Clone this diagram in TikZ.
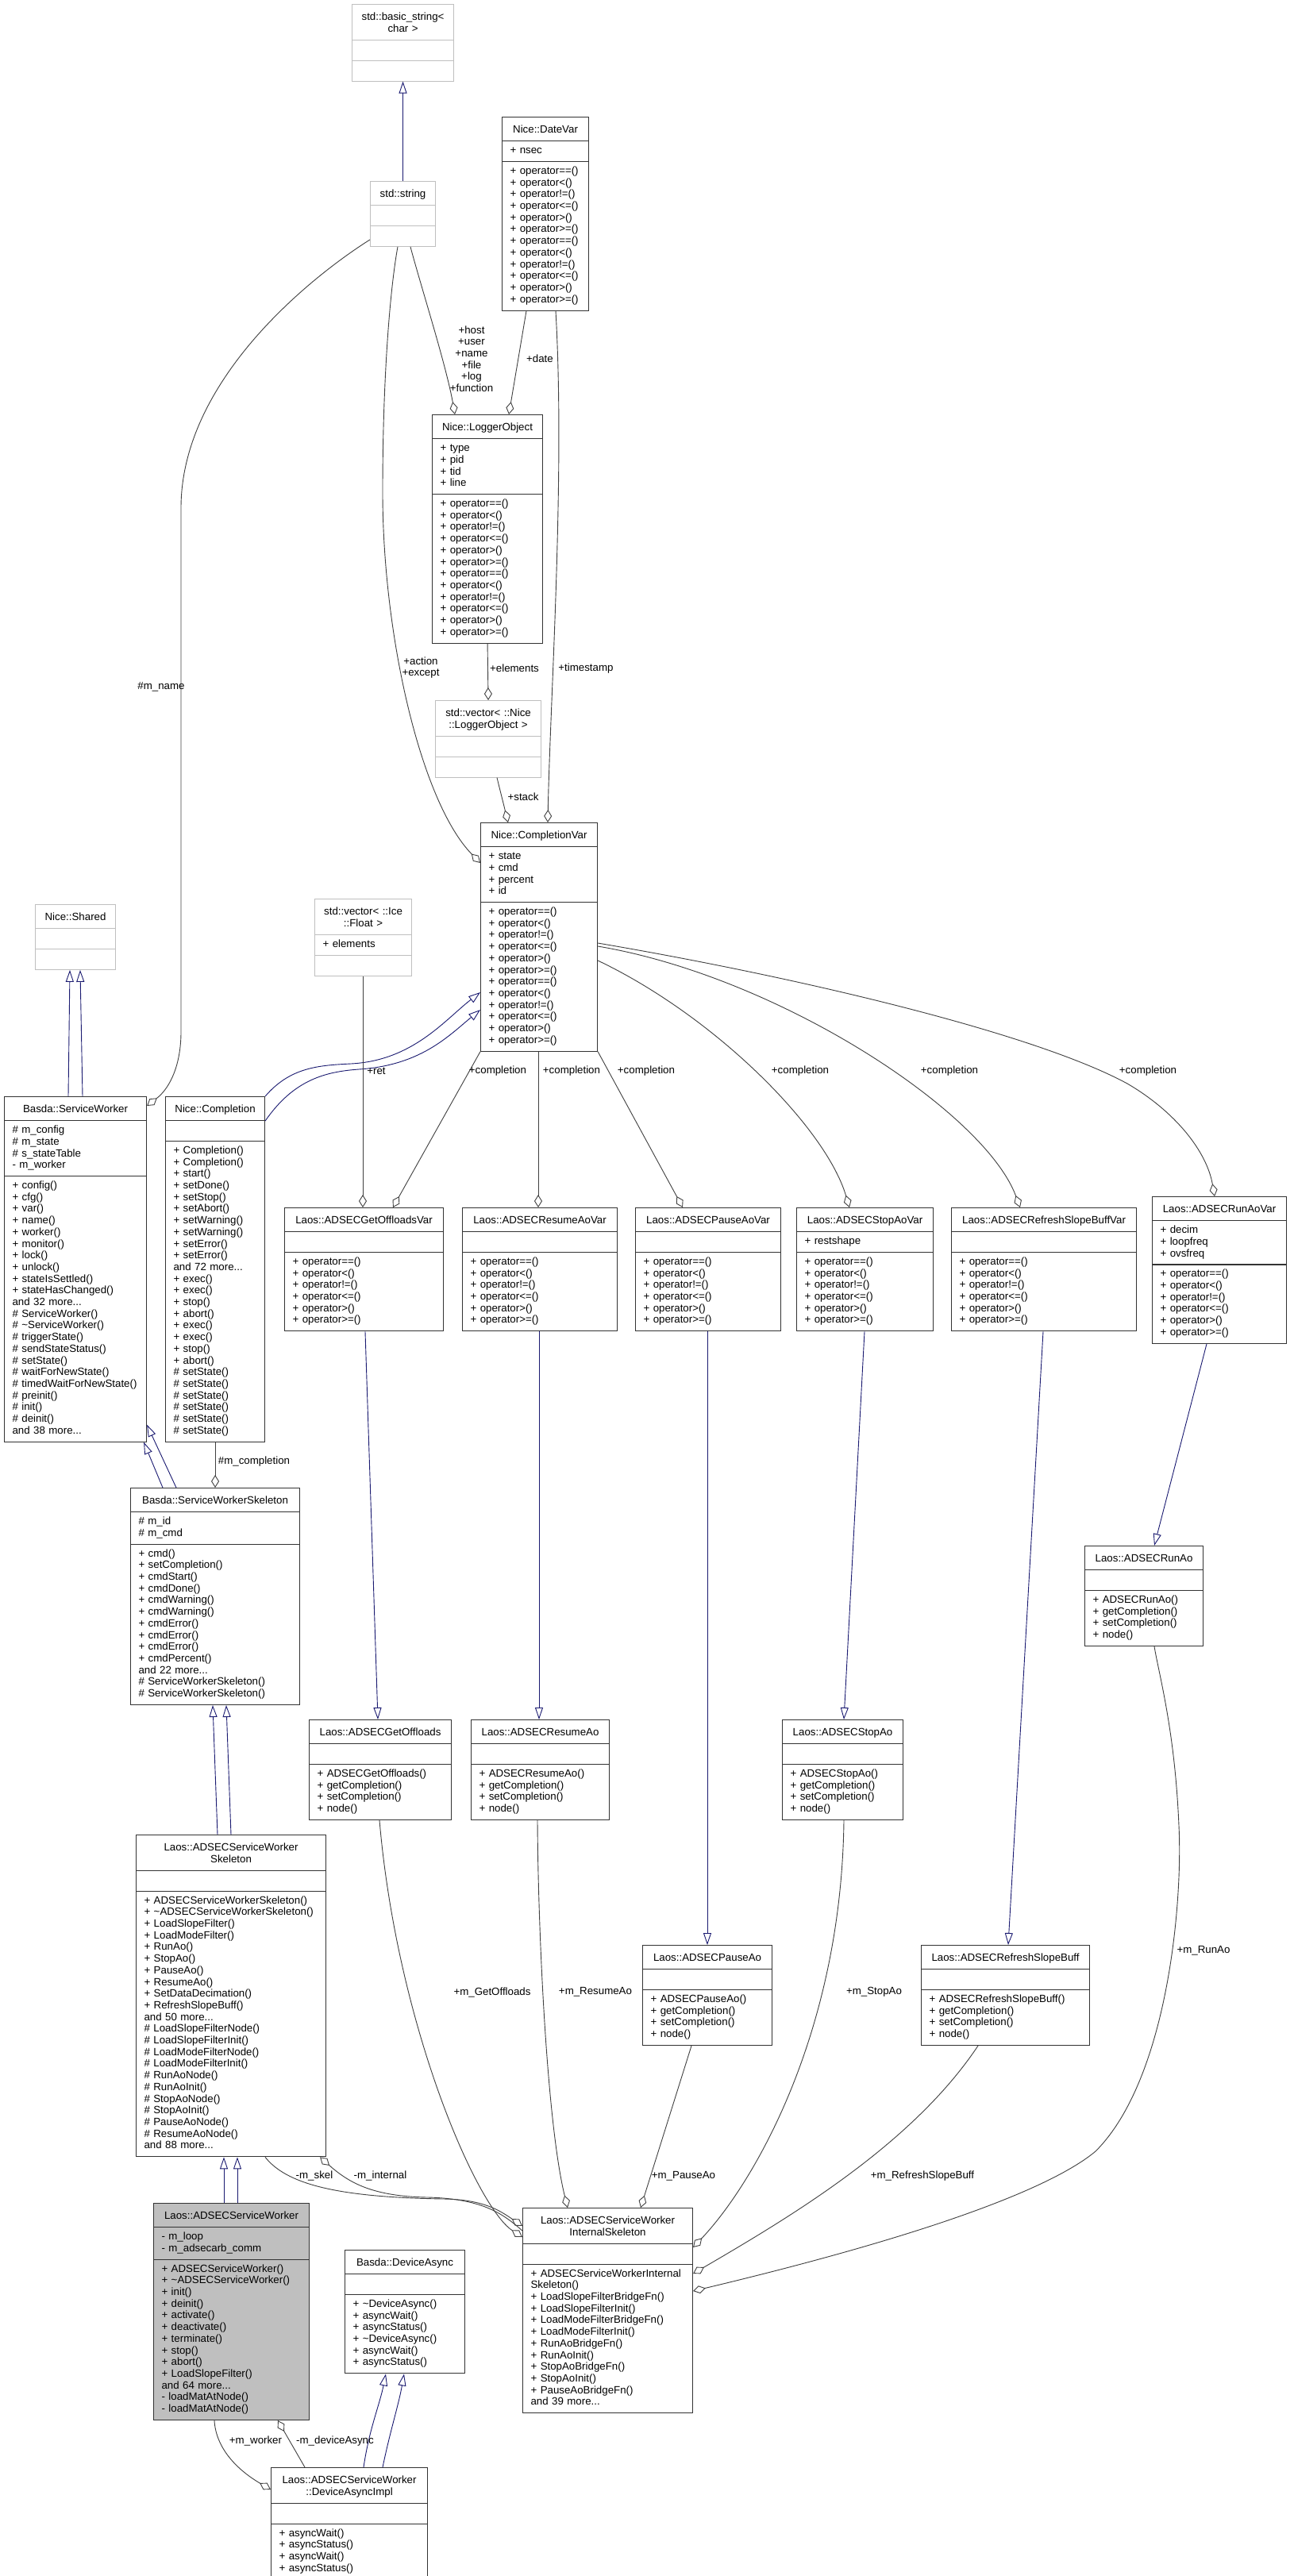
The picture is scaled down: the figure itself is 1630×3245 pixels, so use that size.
\documentclass[tikz,border=0pt]{standalone}
\usepackage{fontspec}
\setmainfont{Liberation Sans}
\usetikzlibrary{arrows.meta,calc,shapes.multipart}
\definecolor{inhblue}{HTML}{191970}
\definecolor{aggray}{HTML}{404040}
\definecolor{extgray}{HTML}{BFBFBF}
\hyphenpenalty=10000
\exhyphenpenalty=10000
\newcommand{\ttl}[1]{\par\hbox to\hsize{\hss\strut#1\strut\hss}}
\newcommand{\opsix}{+ operator==()\\+ operator<()\\+ operator!=()\\+ operator<=()\\+ operator>()\\+ operator>=()}
\newcommand{\leafops}[1]{\strut+ #1()\\+ getCompletion()\\+ setCompletion()\\+ node()\strut}

\begin{document}
\begin{tikzpicture}[x=1pt,y=-1pt,font=\fontsize{13.3}{14.7}\selectfont,
  cls/.style={rectangle split,rectangle split parts=3,draw=black!80,line width=1.1pt,fill=white,
    anchor=north west,inner xsep=10pt,inner ysep=5pt,align=left},
  ext/.style={cls,draw=extgray},
  inh/.style={draw=inhblue,line width=0.9pt,-{Triangle[open,length=15pt,width=10pt]}},
  agg/.style={draw=aggray,line width=0.9pt,{Diamond[open,length=16pt,width=10pt]}-},
  lbl/.style={align=center,inner sep=0pt}]
\path[use as bounding box,fill=white] (0,0) rectangle (1630,3245);

% external classes
\node[ext,text width=108pt] (bstr) at (443,5) {\ttl{std::basic\_string<}\ttl{char >}\nodepart{second}\strut\nodepart{third}\strut};
\node[ext,text width=62pt] (str) at (466,228) {\ttl{std::string}\nodepart{second}\strut\nodepart{third}\strut};
\node[ext,text width=113pt] (vlog) at (548,882) {\ttl{std::vector< ::Nice}\ttl{::LoggerObject >}\nodepart{second}\strut\nodepart{third}\strut};
\node[ext,text width=81pt] (shared) at (44,1139) {\ttl{Nice::Shared}\nodepart{second}\strut\nodepart{third}\strut};
\node[ext,text width=102pt] (vflt) at (396,1132) {\ttl{std::vector< ::Ice}\ttl{::Float >}\nodepart{second}\strut+ elements\strut\nodepart{third}\strut};

% Nice classes
\node[cls,text width=89pt] (datev) at (632,147) {\ttl{Nice::DateVar}\nodepart{second}\strut+ nsec\strut\nodepart{third}\strut\opsix\\\opsix\strut};
\node[cls,text width=119pt] (logobj) at (544,522) {\ttl{Nice::LoggerObject}\nodepart{second}\strut+ type\\+ pid\\+ tid\\+ line\strut\nodepart{third}\strut\opsix\\\opsix\strut};
\node[cls,text width=127pt] (cvar) at (605,1036) {\ttl{Nice::CompletionVar}\nodepart{second}\strut+ state\\+ cmd\\+ percent\\+ id\strut\nodepart{third}\strut\opsix\\\opsix\strut};
\node[cls,text width=159pt] (swork) at (5,1381) {\ttl{Basda::ServiceWorker}\nodepart{second}\strut\# m\_config\\\# m\_state\\\# s\_stateTable\\- m\_worker\strut\nodepart{third}\strut+ config()\\+ cfg()\\+ var()\\+ name()\\+ worker()\\+ monitor()\\+ lock()\\+ unlock()\\+ stateIsSettled()\\+ stateHasChanged()\\and 32 more...\\\# ServiceWorker()\\\# \textasciitilde ServiceWorker()\\\# triggerState()\\\# sendStateStatus()\\\# setState()\\\# waitForNewState()\\\# timedWaitForNewState()\\\# preinit()\\\# init()\\\# deinit()\\and 38 more...\strut};
\node[cls,text width=105pt] (compl) at (208,1381) {\ttl{Nice::Completion}\nodepart{second}\strut\nodepart{third}\strut+ Completion()\\+ Completion()\\+ start()\\+ setDone()\\+ setStop()\\+ setAbort()\\+ setWarning()\\+ setWarning()\\+ setError()\\+ setError()\\and 72 more...\\+ exec()\\+ exec()\\+ stop()\\+ abort()\\+ exec()\\+ exec()\\+ stop()\\+ abort()\\\# setState()\\\# setState()\\\# setState()\\\# setState()\\\# setState()\\\# setState()\strut};

% Var row
\node[cls,text width=180pt] (gofv) at (358,1521) {\ttl{Laos::ADSECGetOffloadsVar}\nodepart{second}\strut\nodepart{third}\strut\opsix\strut};
\node[cls,text width=175pt] (resv) at (582,1521) {\ttl{Laos::ADSECResumeAoVar}\nodepart{second}\strut\nodepart{third}\strut\opsix\strut};
\node[cls,text width=163pt] (pausev) at (800,1521) {\ttl{Laos::ADSECPauseAoVar}\nodepart{second}\strut\nodepart{third}\strut\opsix\strut};
\node[cls,text width=152pt] (stopv) at (1003,1521) {\ttl{Laos::ADSECStopAoVar}\nodepart{second}\strut+ restshape\strut\nodepart{third}\strut\opsix\strut};
\node[cls,text width=213pt] (rsbv) at (1198,1521) {\ttl{Laos::ADSECRefreshSlopeBuffVar}\nodepart{second}\strut\nodepart{third}\strut\opsix\strut};
\node[cls,text width=149pt] (runv) at (1451,1507) {\ttl{Laos::ADSECRunAoVar}\nodepart{second}\strut+ decim\\+ loopfreq\\+ ovsfreq\strut\nodepart{third}\strut\opsix\strut};

% commands
\node[cls,text width=159pt] (gof) at (389,2166) {\ttl{Laos::ADSECGetOffloads}\nodepart{second}\strut\nodepart{third}\leafops{ADSECGetOffloads}};
\node[cls,text width=154pt] (resao) at (593,2166) {\ttl{Laos::ADSECResumeAo}\nodepart{second}\strut\nodepart{third}\leafops{ADSECResumeAo}};
\node[cls,text width=132pt] (stopao) at (985,2166) {\ttl{Laos::ADSECStopAo}\nodepart{second}\strut\nodepart{third}\leafops{ADSECStopAo}};
\node[cls,text width=129pt] (runao) at (1366,1947) {\ttl{Laos::ADSECRunAo}\nodepart{second}\strut\nodepart{third}\leafops{ADSECRunAo}};
\node[cls,text width=143pt] (pauseao) at (809,2450) {\ttl{Laos::ADSECPauseAo}\nodepart{second}\strut\nodepart{third}\leafops{ADSECPauseAo}};
\node[cls,text width=192pt] (rsb) at (1160,2450) {\ttl{Laos::ADSECRefreshSlopeBuff}\nodepart{second}\strut\nodepart{third}\leafops{ADSECRefreshSlopeBuff}};

% skeletons and worker
\node[cls,text width=193pt] (sws) at (164,1874) {\ttl{Basda::ServiceWorkerSkeleton}\nodepart{second}\strut\# m\_id\\\# m\_cmd\strut\nodepart{third}\strut+ cmd()\\+ setCompletion()\\+ cmdStart()\\+ cmdDone()\\+ cmdWarning()\\+ cmdWarning()\\+ cmdError()\\+ cmdError()\\+ cmdError()\\+ cmdPercent()\\and 22 more...\\\# ServiceWorkerSkeleton()\\\# ServiceWorkerSkeleton()\strut};
\node[cls,text width=219pt] (asws) at (171,2311) {\ttl{Laos::ADSECServiceWorker}\ttl{Skeleton}\nodepart{second}\strut\nodepart{third}\strut+ ADSECServiceWorkerSkeleton()\\+ \textasciitilde ADSECServiceWorkerSkeleton()\\+ LoadSlopeFilter()\\+ LoadModeFilter()\\+ RunAo()\\+ StopAo()\\+ PauseAo()\\+ ResumeAo()\\+ SetDataDecimation()\\+ RefreshSlopeBuff()\\and 50 more...\\\# LoadSlopeFilterNode()\\\# LoadSlopeFilterInit()\\\# LoadModeFilterNode()\\\# LoadModeFilterInit()\\\# RunAoNode()\\\# RunAoInit()\\\# StopAoNode()\\\# StopAoInit()\\\# PauseAoNode()\\\# ResumeAoNode()\\and 88 more...\strut};
\node[cls,fill=extgray,text width=176pt] (asw) at (193,2775) {\ttl{Laos::ADSECServiceWorker}\nodepart{second}\strut- m\_loop\\- m\_adsecarb\_comm\strut\nodepart{third}\strut+ ADSECServiceWorker()\\+ \textasciitilde ADSECServiceWorker()\\+ init()\\+ deinit()\\+ activate()\\+ deactivate()\\+ terminate()\\+ stop()\\+ abort()\\+ LoadSlopeFilter()\\and 64 more...\\- loadMatAtNode()\\- loadMatAtNode()\strut};
\node[cls,text width=131pt] (dasync) at (434,2834) {\ttl{Basda::DeviceAsync}\nodepart{second}\strut\nodepart{third}\strut+ \textasciitilde DeviceAsync()\\+ asyncWait()\\+ asyncStatus()\\+ \textasciitilde DeviceAsync()\\+ asyncWait()\\+ asyncStatus()\strut};
\node[cls,text width=177pt] (dimpl) at (341,3108) {\ttl{Laos::ADSECServiceWorker}\ttl{::DeviceAsyncImpl}\nodepart{second}\strut\nodepart{third}\strut+ asyncWait()\\+ asyncStatus()\\+ asyncWait()\\+ asyncStatus()\strut};
\node[cls,text width=194pt] (iskel) at (658,2781) {\ttl{Laos::ADSECServiceWorker}\ttl{InternalSkeleton}\nodepart{second}\strut\nodepart{third}\strut+ ADSECServiceWorkerInternal\\Skeleton()\\+ LoadSlopeFilterBridgeFn()\\+ LoadSlopeFilterInit()\\+ LoadModeFilterBridgeFn()\\+ LoadModeFilterInit()\\+ RunAoBridgeFn()\\+ RunAoInit()\\+ StopAoBridgeFn()\\+ StopAoInit()\\+ PauseAoBridgeFn()\\and 39 more...\strut};

% inheritance
\draw[inh] (str.north) -- (bstr.south);
\draw[inh] ($(swork.north west)+(81,0)$) -- ($(shared.south west)+(44,0)$);
\draw[inh] ($(swork.north west)+(99,0)$) -- ($(shared.south west)+(57,0)$);
\draw[inh] (compl.north east) .. controls (365,1345) and (400,1342) .. (442,1340) .. controls (520,1336) and (560,1285) .. ($(cvar.north west)+(0,214)$);
\draw[inh] ($(compl.north east)+(0,31)$) .. controls (370,1360) and (410,1350) .. (452,1347) .. controls (530,1342) and (565,1305) .. ($(cvar.north west)+(0,236)$);
\draw[inh] ($(sws.north west)+(41,0)$) -- ($(swork.south east)+(-4,0)$);
\draw[inh] ($(sws.north west)+(58,0)$) -- ($(swork.south east)+(0,-22)$);
\draw[inh] ($(asws.north west)+(103,0)$) -- ($(sws.south west)+(104,0)$);
\draw[inh] ($(asws.north west)+(120,0)$) -- ($(sws.south west)+(121,0)$);
\draw[inh] ($(asw.north west)+(89,0)$) -- ($(asws.south west)+(111,0)$);
\draw[inh] ($(asw.north west)+(106,0)$) -- ($(asws.south west)+(128,0)$);
\draw[inh] ($(dimpl.north west)+(117,0)$) .. controls (465,3060) and (478,3030) .. ($(dasync.south west)+(52,0)$);
\draw[inh] ($(dimpl.north west)+(141,0)$) .. controls (492,3060) and (502,3030) .. ($(dasync.south west)+(75,0)$);
\draw[inh] ($(gofv.south west)+(102,0)$) -- ($(gof.north west)+(87,0)$);
\draw[inh] ($(resv.south west)+(97,0)$) -- ($(resao.north west)+(86,0)$);
\draw[inh] ($(pausev.south west)+(91,0)$) -- ($(pauseao.north west)+(82,0)$);
\draw[inh] ($(stopv.south west)+(86,0)$) -- ($(stopao.north west)+(78,0)$);
\draw[inh] ($(rsbv.south west)+(116,0)$) -- ($(rsb.north west)+(110,0)$);
\draw[inh] ($(runv.south west)+(69,0)$) -- ($(runao.north west)+(88,0)$);

% members
\draw[agg] ($(logobj.north west)+(29,0)$) .. controls (562,460) and (530,360) .. ($(str.south west)+(51,0)$);
\draw[agg] ($(cvar.north west)+(0,51)$) .. controls (530,1010) and (482,800) .. (482,620) .. controls (482,470) and (492,360) .. ($(str.south west)+(35,0)$);
\draw[agg] ($(swork.north east)+(0,12)$) .. controls (215,1370) and (228,1340) .. (228,1300) -- (228,640) .. controls (228,480) and (390,350) .. ($(str.south west)+(0,-9)$);
\draw[agg] ($(logobj.north west)+(97,0)$) -- ($(datev.south west)+(31,0)$);
\draw[agg] ($(cvar.north west)+(85,0)$) .. controls (693,880) and (712,600) .. ($(datev.south west)+(68,0)$);
\draw[agg] (vlog.north) -- (logobj.south);
\draw[agg] ($(cvar.north west)+(35,0)$) -- ($(vlog.south west)+(78,0)$);
\draw[agg] (sws.north) -- (compl.south);
\draw[agg] ($(gofv.north west)+(99,0)$) -- ($(vflt.south west)+(61,0)$);
\draw[agg] ($(gofv.north west)+(137,0)$) -- (cvar.south west);
\draw[agg] ($(resv.north west)+(96,0)$) -- ($(cvar.south west)+(73,0)$);
\draw[agg] ($(pausev.north west)+(60,0)$) -- (cvar.south east);
\draw[agg] ($(stopv.north west)+(67,0)$) .. controls (1040,1420) and (900,1280) .. ($(cvar.north east)+(0,174)$);
\draw[agg] ($(rsbv.north west)+(87,0)$) .. controls (1240,1400) and (980,1230) .. ($(cvar.north east)+(0,156)$);
\draw[agg] ($(runv.north west)+(79,0)$) .. controls (1520,1450) and (1480,1400) .. (1420,1365) .. controls (1300,1300) and (1000,1230) .. ($(cvar.north east)+(0,152)$);
\draw[agg] ($(iskel.north west)+(0,37)$) .. controls (600,2780) and (500,2550) .. ($(gof.south west)+(89,0)$);
\draw[agg] ($(iskel.north west)+(57,0)$) .. controls (690,2680) and (678,2450) .. ($(resao.south west)+(84,0)$);
\draw[agg] ($(iskel.north west)+(149,0)$) -- ($(pauseao.south west)+(62,0)$);
\draw[agg] ($(iskel.north east)+(0,50)$) .. controls (950,2750) and (1060,2560) .. ($(stopao.south west)+(78,0)$);
\draw[agg] ($(iskel.north east)+(0,83)$) .. controls (1000,2790) and (1150,2700) .. ($(rsb.south west)+(72,0)$);
\draw[agg] ($(iskel.north east)+(0,105)$) .. controls (1150,2820) and (1320,2760) .. (1380,2710) .. controls (1470,2620) and (1490,2400) .. (1485,2300) .. controls (1480,2180) and (1460,2110) .. ($(runao.south west)+(88,0)$);
\draw[agg] ($(iskel.north west)+(0,23)$) .. controls (630,2785) and (610,2771) .. (560,2770) .. controls (420,2768) and (360,2750) .. ($(asws.south west)+(163,0)$);
\draw[agg] ($(asws.south east)+(-8,0)$) .. controls (440,2750) and (470,2767) .. (540,2768) .. controls (610,2770) and (635,2790) .. ($(iskel.north west)+(0,29)$);
\draw[agg] ($(dimpl.north west)+(0,28)$) .. controls (300,3112) and (272,3085) .. ($(asw.south west)+(77,0)$);
\draw[agg] ($(asw.south west)+(157,0)$) -- ($(dimpl.north west)+(43,0)$);

% edge labels
\node[lbl] (l-str) at (594,452) {+host\\+user\\+name\\+file\\+log\\+function};
\node[lbl] (l-date) at (680,452) {+date};
\node[lbl] (l-act) at (530,841) {+action\\+except};
\node[lbl] (l-elem) at (648,842) {+elements};
\node[lbl] (l-ts) at (738,842) {+timestamp};
\node[lbl] (l-stack) at (659,1004) {+stack};
\node[lbl] (l-name) at (203,865) {\#m\_name};
\node[lbl] (l-ret) at (474,1349) {+ret};
\node[lbl] (l-c1) at (627,1349) {+completion};
\node[lbl] (l-c2) at (720,1349) {+completion};
\node[lbl] (l-c3) at (814,1349) {+completion};
\node[lbl] (l-c4) at (1008,1349) {+completion};
\node[lbl] (l-c5) at (1196,1349) {+completion};
\node[lbl] (l-c6) at (1446,1349) {+completion};
\node[lbl] (l-mc) at (320,1841) {\#m\_completion};
\node[lbl] (l-gof) at (620,2510) {+m\_GetOffloads};
\node[lbl] (l-res) at (750,2509) {+m\_ResumeAo};
\node[lbl] (l-stop) at (1101,2509) {+m\_StopAo};
\node[lbl] (l-run) at (1516,2457) {+m\_RunAo};
\node[lbl] (l-pause) at (861,2741) {+m\_PauseAo};
\node[lbl] (l-rsb) at (1162,2741) {+m\_RefreshSlopeBuff};
\node[lbl] (l-skel) at (396,2741) {-m\_skel};
\node[lbl] (l-int) at (479,2741) {-m\_internal};
\node[lbl] (l-work) at (322,3075) {+m\_worker};
\node[lbl] (l-dev) at (422,3075) {-m\_deviceAsync};
\end{tikzpicture}
\end{document}
